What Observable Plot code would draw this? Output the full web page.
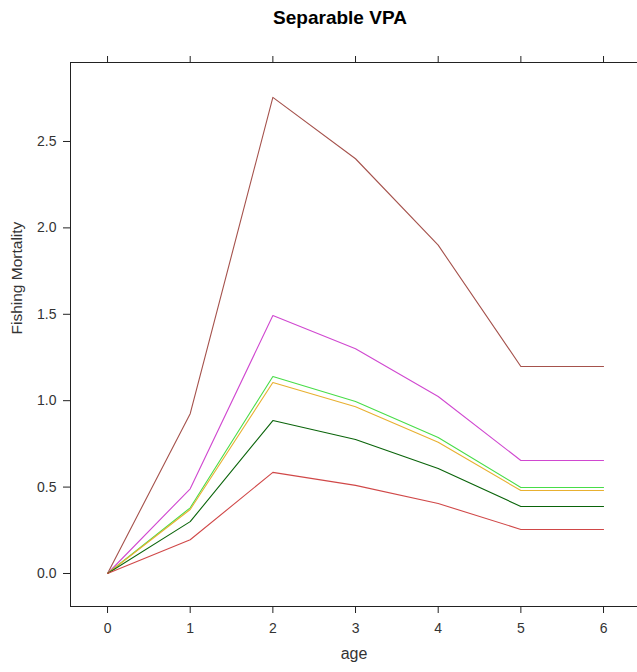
<!DOCTYPE html>
<html>
<head>
<meta charset="utf-8">
<script src="https://cdn.jsdelivr.net/npm/d3@7"></script>
<script src="https://cdn.jsdelivr.net/npm/@observablehq/plot@0.6"></script>
<style>
  html, body { margin: 0; padding: 0; background: #fff; }
  #title { height: 40px; width: 637px; font-family: "Liberation Sans", Arial, sans-serif; font-weight: bold; font-size: 19px; color: #000; box-sizing: border-box; padding-top: 7px; padding-left: 43px; text-align: center; }
  svg { display: block; }
</style>
</head>
<body>
<div id="title">Separable VPA</div>
<div id="chart"></div>
<script>
const ages = [0, 1, 2, 3, 4, 5, 6];
const seriesNames = ["s1", "s2", "s3", "s4", "s5", "s6"];
const seriesColors = ["#a5524c", "#d048d0", "#48dd48", "#e8b030", "#0a640a", "#d04848"];
const s1 = [0, 0.925, 2.755, 2.40, 1.90, 1.198, 1.198];
const s2 = [0, 0.49, 1.493, 1.30, 1.024, 0.654, 0.654];
const s3 = [0, 0.38, 1.14, 0.995, 0.787, 0.498, 0.498];
const s4 = [0, 0.37, 1.105, 0.965, 0.76, 0.48, 0.48];
const s5 = [0, 0.30, 0.885, 0.775, 0.607, 0.388, 0.388];
const s6 = [0, 0.195, 0.585, 0.51, 0.405, 0.255, 0.255];
const seriesValues = [s1, s2, s3, s4, s5, s6];
const xTicks = [0, 1, 2, 3, 4, 5, 6];
const yTicks = [0, 0.5, 1.0, 1.5, 2.0, 2.5];
const xLabel = "age";
const yLabel = "Fishing Mortality";

const rows = [];
seriesValues.forEach((vals, i) => {
  vals.forEach((v, j) => rows.push({age: ages[j], F: v, series: seriesNames[i], color: seriesColors[i]}));
});

const xDom = [-0.448, 6.411];
const yDom = [-0.191, 2.957];

const chart = Plot.plot({
  width: 637,
  height: 632,
  marginLeft: 70,
  marginRight: 0,
  marginTop: 22,
  marginBottom: 66,
  style: {fontFamily: "'Liberation Sans', Arial, sans-serif", fontSize: "14px", color: "#333", background: "#fff"},
  x: {domain: xDom},
  y: {domain: yDom},
  marks: [
    Plot.ruleX([xDom[0]], {stroke: "#222", strokeWidth: 1}),
    Plot.ruleY([yDom[0], yDom[1]], {stroke: "#222", strokeWidth: 1}),
    Plot.axisX(xTicks, {anchor: "bottom", tickSize: 7, tickPadding: 10, label: null, fontSize: 14, stroke: "#222"}),
    Plot.axisX(xTicks, {anchor: "top", tickSize: 7, tickFormat: () => "", label: null, stroke: "#222"}),
    Plot.axisY(yTicks, {anchor: "left", tickSize: 7, tickPadding: 7, tickFormat: d3.format(".1f"), label: null, fontSize: 14, stroke: "#222"}),
    Plot.text([xLabel], {frameAnchor: "bottom", dy: 52, fontSize: 16, fill: "#333"}),
    Plot.text([yLabel], {frameAnchor: "left", dx: -53, rotate: -90, fontSize: 15.5, fill: "#333"}),
    Plot.line(rows, {x: "age", y: "F", z: "series", stroke: "color", strokeWidth: 1.1})
  ]
});
document.getElementById("chart").appendChild(chart);
</script>
</body>
</html>
